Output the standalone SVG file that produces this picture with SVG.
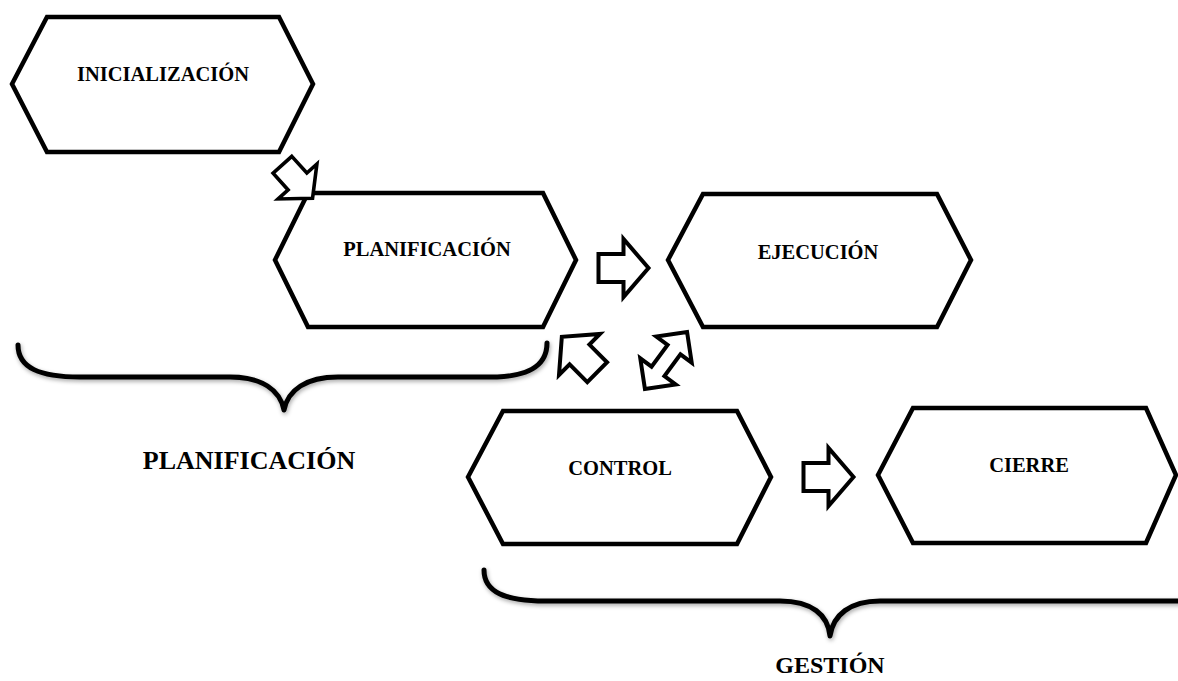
<svg xmlns="http://www.w3.org/2000/svg" width="1178" height="681" viewBox="0 0 1178 681">
  <defs>
    <style>
      .hex { fill: #ffffff; stroke: #000000; stroke-width: 4.5; stroke-linejoin: miter; }
      .lbl { font-family: "Liberation Serif", "Times New Roman", serif; font-weight: bold; font-size: 20.5px; fill: #000000; text-anchor: middle; }
      .big { font-family: "Liberation Serif", "Times New Roman", serif; font-weight: bold; font-size: 26px; fill: #000000; text-anchor: middle; }
      .arr { fill: #ffffff; stroke: #000000; stroke-width: 4; stroke-linejoin: miter; }
      .brace { fill: none; stroke: #000000; stroke-width: 5; stroke-linecap: round; stroke-linejoin: round; filter: url(#shadow); }
    </style>
    <filter id="shadow" x="-10%" y="-30%" width="120%" height="160%">
      <feDropShadow dx="1" dy="2" stdDeviation="2" flood-color="#000000" flood-opacity="0.35"/>
    </filter>
    <polygon id="arrow1" points="-25,-14 0,-14 0,-29 25,0 0,29 0,14 -25,14"/>
    <polygon id="arrow2" points="-35.5,0 -13.5,-22 -13.5,-8 13.5,-8 13.5,-22 35.5,0 13.5,22 13.5,8 -13.5,8 -13.5,22"/>
  </defs>

  <g id="inicializacion">
    <polygon class="hex" points="12,84 47,17 279,17 313,84 279,152 47,152"/>
    <text class="lbl" x="163" y="81">INICIALIZACIÓN</text>
  </g>

  <g id="planificacion">
    <polygon class="hex" points="275,260 308,193 543,193 576,260 543,327 308,327"/>
    <text class="lbl" x="427" y="256">PLANIFICACIÓN</text>
  </g>

  <g id="ejecucion">
    <polygon class="hex" points="668,260 703,194 937,194 971,260 937,327 703,327"/>
    <text class="lbl" x="818" y="259">EJECUCIÓN</text>
  </g>

  <g id="control">
    <polygon class="hex" points="468,477 503,411 737,411 771,477 737,544 503,544"/>
    <text class="lbl" x="620" y="475">CONTROL</text>
  </g>

  <g id="cierre">
    <polygon class="hex" points="878,475 913,408 1146,408 1176,475 1146,543 913,543"/>
    <text class="lbl" x="1029" y="472">CIERRE</text>
  </g>

  <g id="connectors">
    <use href="#arrow1" class="arr" transform="translate(297.5,181.5) rotate(48) scale(0.9)"/>
    <use href="#arrow1" class="arr" transform="translate(623.5,268)"/>
    <use href="#arrow1" class="arr" transform="translate(828.5,477)"/>
    <use href="#arrow1" class="arr" transform="translate(579.5,354.5) rotate(225)"/>
    <use href="#arrow2" class="arr" transform="translate(666,360.5) rotate(-53.6)"/>
  </g>

  <g id="brace-planificacion">
    <path class="brace" d="M18,345 C18,368 40,377 80,377 L230,377 C262,377 280,390 284,410 C288,390 306,377 338,377 L490,377 C525,377 547,368 547,343"/>
    <text class="big" x="249" y="469">PLANIFICACIÓN</text>
  </g>

  <g id="brace-gestion">
    <path class="brace" d="M484,570 C484,592 505,601 545,601 L780,601 C812,601 828,615 830,636 C833,615 850,601 880,601 L1185,601"/>
    <text class="big" x="830" y="673" style="font-size:24px">GESTIÓN</text>
  </g>
</svg>
